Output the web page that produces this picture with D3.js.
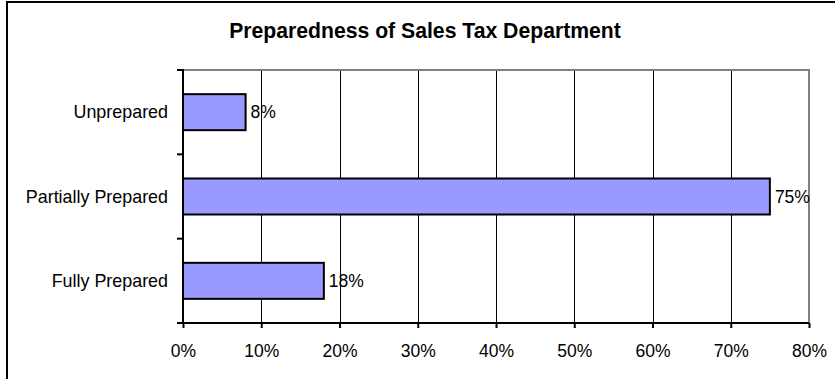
<!DOCTYPE html>
<html>
<head>
<meta charset="utf-8">
<script src="https://cdn.jsdelivr.net/npm/d3@7/dist/d3.min.js"></script>
<style>
  html, body { margin: 0; padding: 0; background: #fff; }
  svg { display: block; font-family: Arial, "Liberation Sans", sans-serif; }
</style>
</head>
<body>
<svg id="chart" width="835" height="379"></svg>
<script>
// Survey results: share of respondents by preparedness level
const titleText = "Preparedness of Sales Tax Department";
const categories = ["Unprepared", "Partially Prepared", "Fully Prepared"];
const values = [8, 75, 18];           // percent
const tickValues = [0, 10, 20, 30, 40, 50, 60, 70, 80];

const svg = d3.select("#chart");
const plot = { left: 183, right: 809, top: 70, bottom: 323 };

// Outer frame
svg.append("rect")
  .attr("x", 7).attr("y", 2)
  .attr("width", 860).attr("height", 420)
  .attr("fill", "#fff").attr("stroke", "#000").attr("stroke-width", 2);

// Title
svg.append("text")
  .attr("x", 425).attr("y", 38)
  .attr("text-anchor", "middle")
  .attr("font-size", "21.2px").attr("font-weight", "bold")
  .attr("fill", "#000")
  .text(titleText);

const x = d3.scaleLinear().domain([0, 80]).range([plot.left, plot.right]);
const y = d3.scaleBand().domain(categories)
  .range([plot.top, plot.bottom])
  .paddingInner(0.573).paddingOuter(0.2865);

const g = svg.append("g");

// Vertical gridlines
g.selectAll("line.grid")
  .data(tickValues.filter(t => t > 0 && t < 80))
  .join("line")
  .attr("class", "grid")
  .attr("x1", d => Math.round(x(d)) + 0.5).attr("x2", d => Math.round(x(d)) + 0.5)
  .attr("y1", plot.top).attr("y2", plot.bottom)
  .attr("stroke", "#000").attr("stroke-width", 1);

// Plot area frame (top and right edges, grey)
g.append("path")
  .attr("d", `M${plot.left},${plot.top}H${x(80)}V${plot.bottom}`)
  .attr("fill", "none").attr("stroke", "#808080").attr("stroke-width", 2);

// Bars
g.selectAll("rect.bar")
  .data(categories)
  .join("rect")
  .attr("class", "bar")
  .attr("x", x(0))
  .attr("y", d => y(d))
  .attr("width", (d, i) => x(values[i]) - x(0))
  .attr("height", y.bandwidth())
  .attr("fill", "#9999FF")
  .attr("stroke", "#000").attr("stroke-width", 2);

// Value labels
g.selectAll("text.val")
  .data(categories)
  .join("text")
  .attr("class", "val")
  .attr("x", (d, i) => x(values[i]) + 5)
  .attr("y", d => y(d) + y.bandwidth() / 2 + 6)
  .attr("font-size", "17.5px").attr("fill", "#000")
  .text((d, i) => values[i] + "%");

// Bottom axis
const xAxis = d3.axisBottom(x)
  .tickValues(tickValues)
  .tickSize(5)
  .tickPadding(0)
  .tickFormat(d => d + "%");
const xg = svg.append("g")
  .attr("transform", `translate(0,${plot.bottom})`)
  .call(xAxis);
xg.select(".domain").attr("stroke", "#000").attr("stroke-width", 2)
  .attr("d", `M${plot.left},0H${plot.right}`);
xg.selectAll(".tick line").attr("stroke", "#000").attr("stroke-width", 2);
xg.selectAll(".tick text")
  .attr("font-family", "Arial, 'Liberation Sans', sans-serif")
  .attr("font-size", "17.5px").attr("fill", "#000")
  .attr("dy", null).attr("y", 34);

// Left axis: category labels with ticks on band boundaries
const yAxis = d3.axisLeft(y).tickSize(0).tickPadding(15);
const yg = svg.append("g")
  .attr("transform", `translate(${plot.left},0)`)
  .call(yAxis);
yg.select(".domain").attr("stroke", "#000").attr("stroke-width", 2)
  .attr("d", `M0,${plot.top - 1}V${plot.bottom + 1}`);
yg.selectAll(".tick text")
  .attr("font-family", "Arial, 'Liberation Sans', sans-serif")
  .attr("font-size", "17.9px").attr("fill", "#000")
  .attr("dy", null).attr("y", 6);

const bounds = d3.range(categories.length + 1).map(i => plot.top + (plot.bottom - plot.top) * i / categories.length);
yg.selectAll("line.sep")
  .data(bounds)
  .join("line")
  .attr("class", "sep")
  .attr("x1", -6).attr("x2", 0)
  .attr("y1", d => d).attr("y2", d => d)
  .attr("stroke", "#000").attr("stroke-width", 2);
</script>
</body>
</html>
